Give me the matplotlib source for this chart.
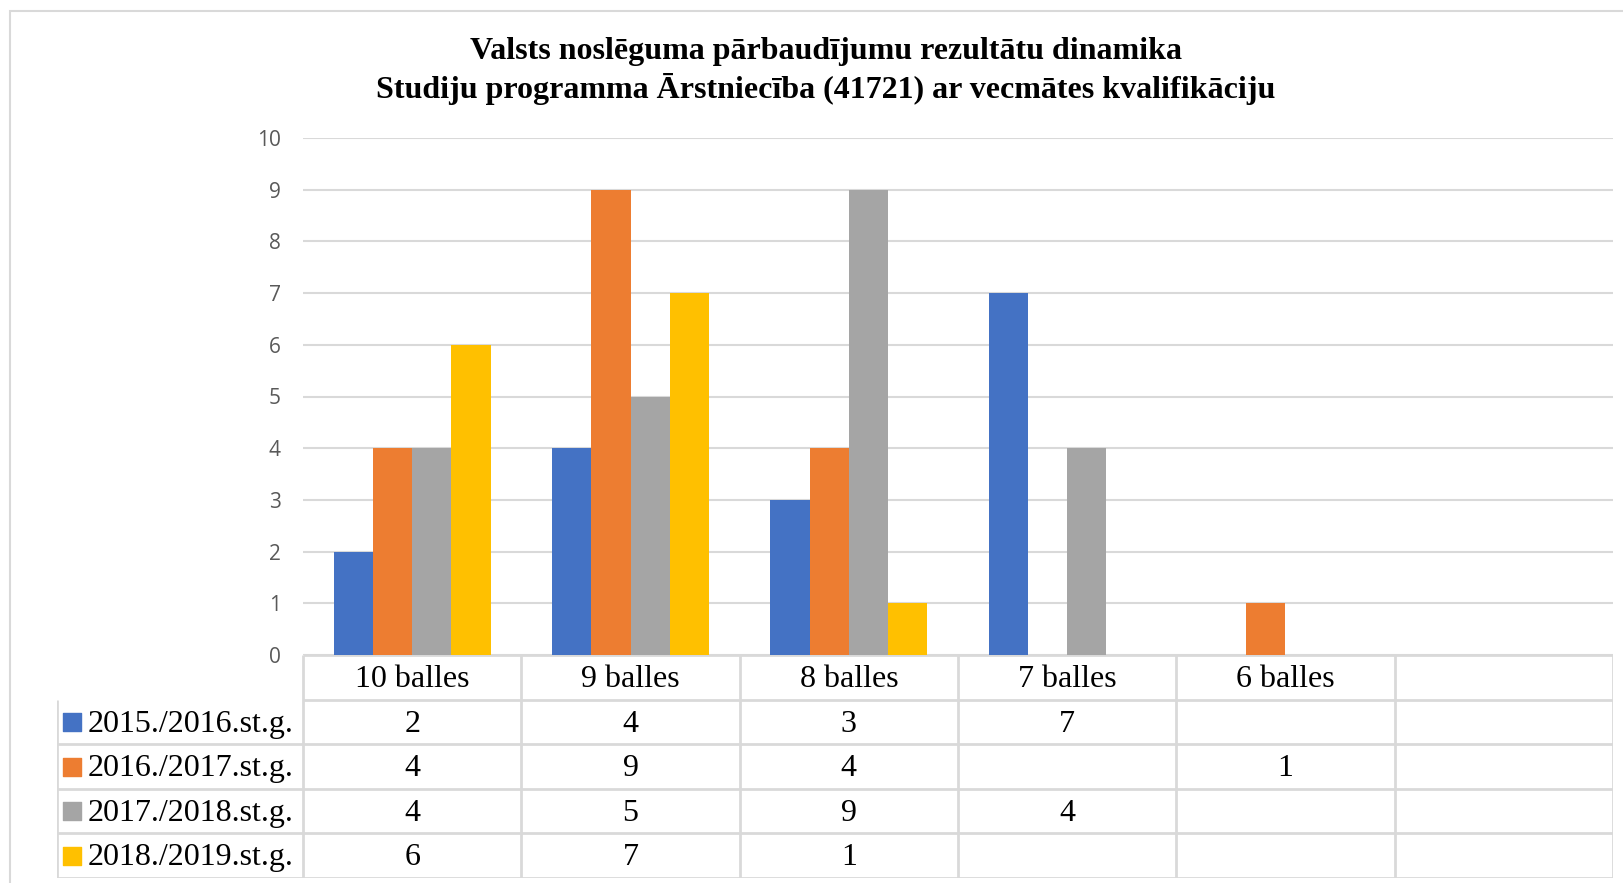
import numpy as np
import matplotlib
matplotlib.use('Agg')
import matplotlib.pyplot as plt
from matplotlib.patches import Rectangle

# data
kategorijas = ['10 balles', '9 balles', '8 balles', '7 balles', '6 balles', '']
gadi = ['2015./2016.st.g.', '2016./2017.st.g.', '2017./2018.st.g.', '2018./2019.st.g.']
v_2015 = [2, 4, 3, 7, None, None]
v_2016 = [4, 9, 4, None, 1, None]
v_2017 = [4, 5, 9, 4, None, None]
v_2018 = [6, 7, 1, None, None, None]
serijas = [v_2015, v_2016, v_2017, v_2018]
krasas = ['#4472C4', '#ED7D31', '#A5A5A5', '#FFC000']

W, H = 1623, 883
fig = plt.figure(figsize=(W / 100, H / 100), dpi=100)
serif = 'Liberation Serif'
grid_c = '#D9D9D9'

# outer chart border
fig.patches.append(Rectangle((10 / W, -0.01), 1.0, 1 - 11 / H + 0.01, transform=fig.transFigure,
                             fill=False, edgecolor=grid_c, linewidth=1.5))

fig.text(826 / W, 1 - 51 / H, 'Valsts noslēguma pārbaudījumu rezultātu dinamika',
         ha='center', va='center', fontsize=23, fontweight='bold', family=serif)
fig.text(826 / W, 1 - 89 / H, 'Studiju programma Ārstniecība (41721) ar vecmātes kvalifikāciju',
         ha='center', va='center', fontsize=23, fontweight='bold', family=serif)

# bar chart
x0, x1 = 303, 1613
y_top, y_zero = 138, 655
ax = fig.add_axes([x0 / W, 1 - y_zero / H, (x1 - x0) / W, (y_zero - y_top) / H])
n = len(kategorijas)
bw = 0.18
for i, (vals, c) in enumerate(zip(serijas, krasas)):
    xs = [k + 0.5 + (i - 1.5) * bw for k in range(n) if vals[k] is not None]
    hs = [v for v in vals if v is not None]
    ax.bar(xs, hs, width=bw, color=c, zorder=3)
ax.set_xlim(0, n)
ax.set_ylim(0, 10)
ax.set_yticks(range(0, 11))
ax.yaxis.grid(True, color=grid_c, linewidth=1.5, zorder=0)
ax.set_xticks([])
ax.tick_params(axis='y', length=0, pad=16, labelsize=15, labelcolor='#595959')
for lab in ax.get_yticklabels():
    lab.set_family('Open Sans')
for s in ax.spines.values():
    s.set_visible(False)

# data table under the chart
t_left, t_bottom = 57, 878
lab_w = (x0 - t_left) / ((x1 - x0) / n)
tax = fig.add_axes([t_left / W, 1 - t_bottom / H, (x1 - t_left) / W, (t_bottom - y_zero) / H])
tax.set_xlim(-lab_w, n)
tax.set_ylim(5, 0)
tax.axis('off')
lc = dict(color=grid_c, linewidth=2)
tax.hlines([0, 1], 0, n, **lc)
tax.hlines([2, 3, 4, 5], -lab_w, n, **lc)
tax.vlines(range(0, n + 1), 0, 5, **lc)
tax.vlines([-lab_w], 1, 5, **lc)
fs = 23
for k, kat in enumerate(kategorijas):
    tax.text(k + 0.5, 0.55, kat, ha='center', va='center', fontsize=fs, family=serif)
for r, (g, vals, c) in enumerate(zip(gadi, serijas, krasas)):
    y = r + 1.55
    tax.scatter([-lab_w + 0.07], [y - 0.05], marker='s', s=150, color=c)
    tax.text(-lab_w + 0.14, y, g, ha='left', va='center', fontsize=fs, family=serif)
    for k, v in enumerate(vals):
        if v is not None:
            tax.text(k + 0.5, y, str(v), ha='center', va='center', fontsize=fs, family=serif)

fig.savefig('out.png', dpi=100)
